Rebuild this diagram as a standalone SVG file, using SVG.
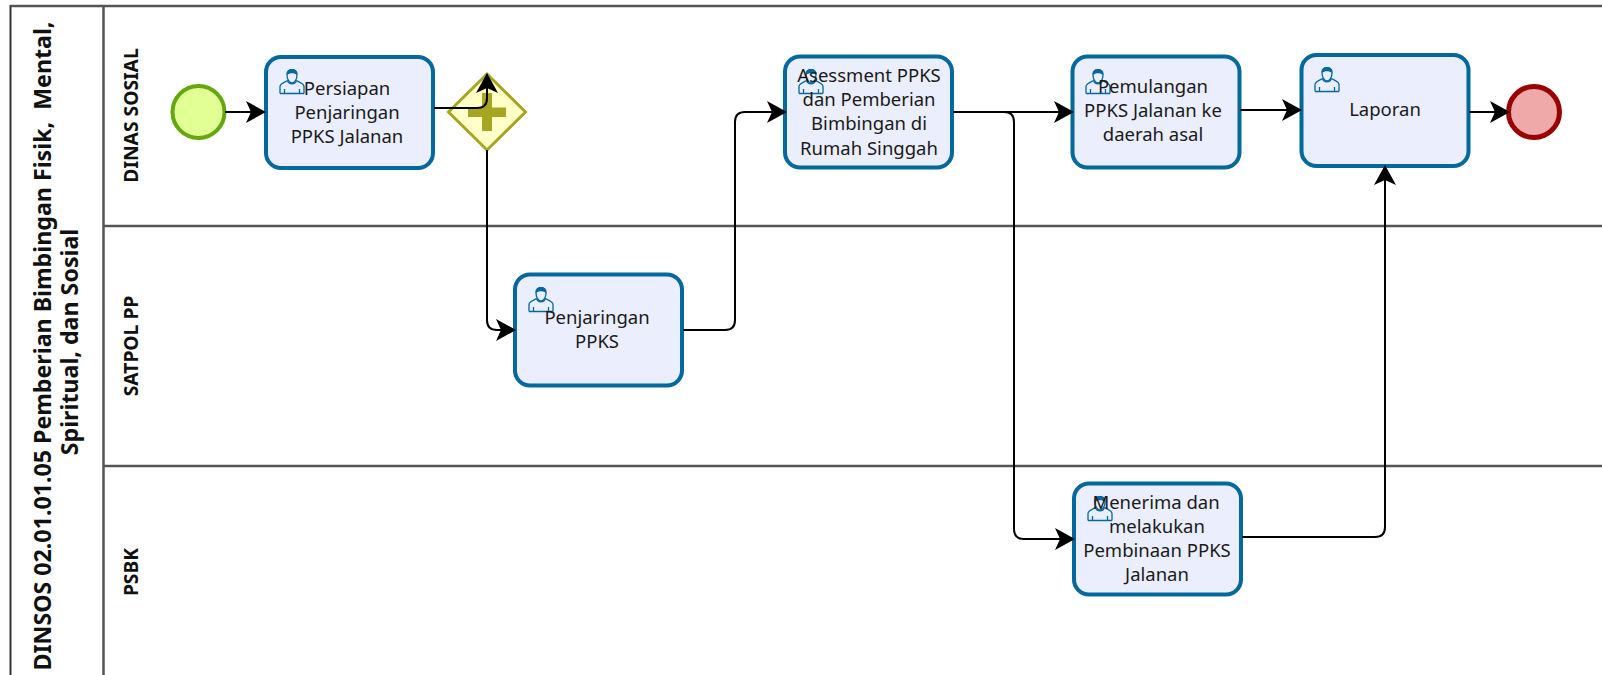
<svg xmlns="http://www.w3.org/2000/svg" width="1602" height="675" viewBox="0 0 1602 675">
<style>
text{font-family:"Noto Sans","Open Sans","Liberation Sans",sans-serif;fill:#1a1a1a;text-anchor:middle}
.t{font-size:18.500px}
.lane{font-size:19.300px;font-weight:700;fill:#111}
.pool{font-size:23.200px;font-weight:700;fill:#111;white-space:pre}
.task{fill:#eaeefd;stroke:#03689b;stroke-width:4}
.sw{fill:none;stroke:#555;stroke-width:2.500}
.c{fill:none;stroke:#000;stroke-width:2}
</style>
<defs>
<symbol id="user" viewBox="0 0 26 26" overflow="visible">
<path d="M1 25.500V18.500C1 15.500 6 14 8.500 12.500M25 25.500V18.500C25 15.500 20 14 17.500 12.500M1 25.500H25M5.500 25.500V21M20.500 25.500V21M8.500 12.500C10 17 16 17 17.500 12.500" fill="none" stroke="#03689b" stroke-width="1.300"/>
<path d="M8 6.500C7.500 0 18.500 0 18 6.500C18 11 16 15 13 15C10 15 8 11 8 6.500Z" fill="#eaeefd" stroke="#03689b" stroke-width="1.300"/>
<path d="M7.800 7C7 -1 19 -1 18.200 7C15 4.500 11 4.500 7.800 7Z" fill="#03689b"/>
</symbol>
<marker id="a" viewBox="0 0 20 24" refX="19" refY="12" markerWidth="20" markerHeight="24" markerUnits="userSpaceOnUse" orient="auto"><path d="M0 1L20 12L0 23L5 12Z" fill="#000"/></marker>
</defs>
<g id="pool">
<rect x="10.500" y="6" width="1600" height="680" fill="#fff" stroke="#333" stroke-width="2"/>
<path class="sw" d="M10.500 6H1602M103.500 6V675M103.500 226H1602M103.500 466H1602"/>
<text class="pool" transform="translate(51 346) rotate(-90)">DINSOS 02.01.01.05 Pemberian Bimbingan Fisik,  Mental,</text>
<text class="pool" transform="translate(78 342) rotate(-90)">Spiritual, dan Sosial</text>
<text class="lane" transform="translate(137.500 115.500) rotate(-90)">DINAS SOSIAL</text>
<text class="lane" transform="translate(137.500 346) rotate(-90)">SATPOL PP</text>
<text class="lane" transform="translate(137.500 572) rotate(-90)">PSBK</text>
</g>
<g id="start"><circle cx="198.500" cy="112" r="26" fill="#e1ff94" stroke="#64a70f" stroke-width="4"/></g>
<g id="gateway">
<path d="M487 74L525.500 112L487 150L448.500 112Z" fill="#ffffc8" stroke="#a6a622" stroke-width="3"/>
<path d="M482 93H492V107.500H506V117H492V131H482V117H468V107.500H482Z" fill="#a6a622"/>
</g>
<g id="task1"><rect class="task" x="266" y="57" width="167" height="111" rx="15"/><use href="#user" x="279" y="68" width="26" height="26"/>
<text class="t" x="347" y="95">Persiapan</text><text class="t" x="347" y="118.500">Penjaringan</text><text class="t" x="347" y="142.500">PPKS Jalanan</text></g>
<g id="task2"><rect class="task" x="515" y="274.500" width="167" height="111" rx="15"/><use href="#user" x="528" y="286" width="26" height="26"/>
<text class="t" x="597" y="324">Penjaringan</text><text class="t" x="597" y="348">PPKS</text></g>
<g id="task3"><rect class="task" x="785" y="56.500" width="167" height="111" rx="15"/><use href="#user" x="798" y="68" width="26" height="26"/>
<text class="t" x="869" y="82">Asessment PPKS</text><text class="t" x="869" y="106">dan Pemberian</text><text class="t" x="869" y="130">Bimbingan di</text><text class="t" x="869" y="154.500">Rumah Singgah</text></g>
<g id="task4"><rect class="task" x="1072.500" y="56.500" width="167" height="111" rx="15"/><use href="#user" x="1085" y="68" width="26" height="26"/>
<text class="t" x="1153" y="93">Pemulangan</text><text class="t" x="1153" y="117">PPKS Jalanan ke</text><text class="t" x="1153" y="141">daerah asal</text></g>
<g id="task5"><rect class="task" x="1301.500" y="55" width="167" height="111" rx="15"/><use href="#user" x="1314" y="66" width="26" height="26"/>
<text class="t" x="1385" y="116">Laporan</text></g>
<g id="task6"><rect class="task" x="1074" y="483.500" width="167" height="111" rx="15"/><use href="#user" x="1087" y="495" width="26" height="26"/>
<text class="t" x="1156" y="509">Menerima dan</text><text class="t" x="1157" y="533">melakukan</text><text class="t" x="1157" y="557">Pembinaan PPKS</text><text class="t" x="1157" y="581">Jalanan</text></g>
<g id="end"><circle cx="1534" cy="112" r="25.500" fill="#efa9a9" stroke="#990000" stroke-width="5"/></g>
<g id="connectors">
<path class="c" marker-end="url(#a)" d="M225 112H265"/>
<path class="c" marker-end="url(#a)" d="M434 108H477Q487 108 487 98V74"/>
<path class="c" marker-end="url(#a)" d="M487 150V320Q487 330 497 330H515"/>
<path class="c" marker-end="url(#a)" d="M683 330H725Q735 330 735 320V122Q735 112 745 112H786"/>
<path class="c" marker-end="url(#a)" d="M953 112H1073"/>
<path class="c" marker-end="url(#a)" d="M953 112H1004Q1014 112 1014 122V529Q1014 539 1024 539H1074"/>
<path class="c" marker-end="url(#a)" d="M1240 110H1301"/>
<path class="c" marker-end="url(#a)" d="M1469 112H1509"/>
<path class="c" marker-end="url(#a)" d="M1242 537H1375Q1385 537 1385 527V166"/>
</g>
</svg>
